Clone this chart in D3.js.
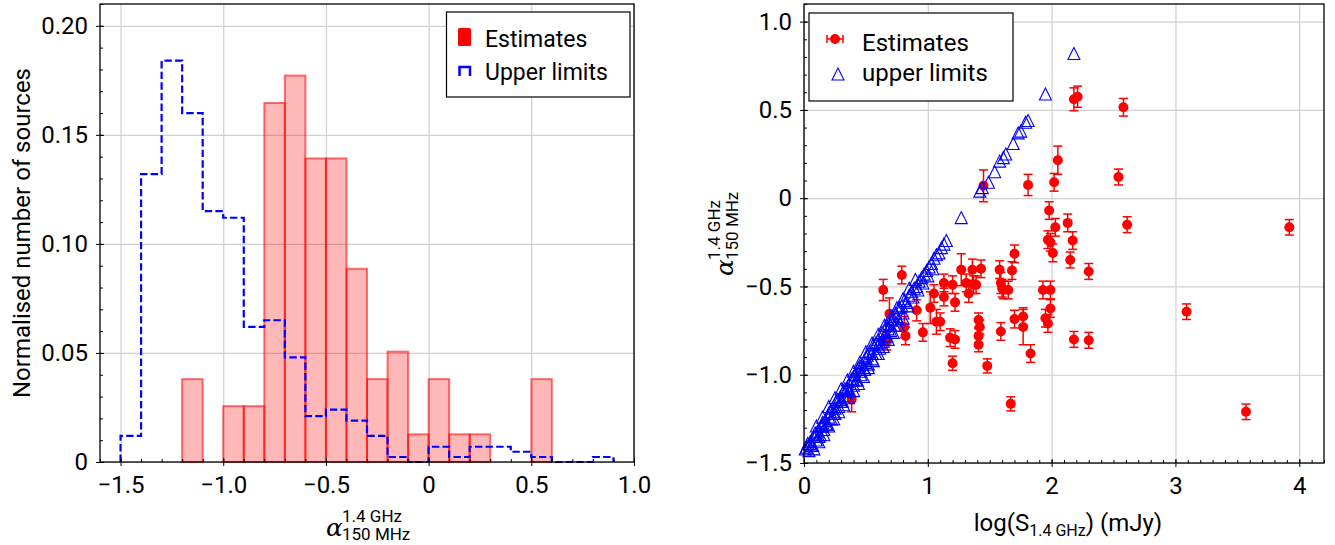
<!DOCTYPE html>
<html>
<head>
<meta charset="utf-8">
<script src="https://cdn.jsdelivr.net/npm/d3@7"></script>
<style>
  body { margin: 0; background: #fff; }
  svg { font-family: Roboto, "DejaVu Sans", sans-serif; }
</style>
</head>
<body>
<svg width="1335" height="545"></svg>
<script>
/////////////////////////////////
// Spectral index figure: histogram (left) and scatter (right).
//

// Left panel: histogram bins (left edges, width 0.1) and normalised heights.
const estBins = [-1.2, -1.1, -1.0, -0.9, -0.8, -0.7, -0.6, -0.5, -0.4, -0.3, -0.2, -0.1, 0.0, 0.1, 0.2, 0.3, 0.4, 0.5];
const estValues = [0.038, 0, 0.0256, 0.0256, 0.1646, 0.1772, 0.1392, 0.1392, 0.0886, 0.038, 0.0506, 0.0127, 0.038, 0.0127, 0.0127, 0, 0, 0.038];

const ulBins = [-1.5, -1.4, -1.3, -1.2, -1.1, -1.0, -0.9, -0.8, -0.7, -0.6, -0.5, -0.4, -0.3, -0.2, -0.1, 0.0, 0.1, 0.2, 0.3, 0.4, 0.5, 0.6, 0.7, 0.8];
const ulValues = [0.012, 0.132, 0.184, 0.160, 0.115, 0.112, 0.062, 0.065, 0.048, 0.021, 0.024, 0.019, 0.012, 0.0023, 0, 0.007, 0.0023, 0.007, 0.007, 0.0047, 0.0023, 0, 0, 0.0023];
const binWidth = 0.1;

const histXTicks = [-1.5, -1.0, -0.5, 0, 0.5, 1.0];
const histXLabels = ["\u22121.5", "\u22121.0", "\u22120.5", "0", "0.5", "1.0"];
const histYTicks = [0, 0.05, 0.10, 0.15, 0.20];
const histYLabels = ["0", "0.05", "0.10", "0.15", "0.20"];

// Right panel: estimates (log S, alpha, error) and upper limits.
const estX = [0.385, 0.64, 0.79, 0.69, 0.67, 0.81, 0.82, 0.91, 0.96, 1.02, 1.05, 1.07, 1.10, 1.13, 1.13, 1.20, 1.22, 1.18, 1.22, 1.20,
  1.27, 1.31, 1.33, 1.36, 1.37, 1.39, 1.43, 1.41, 1.42, 1.41, 1.41, 1.48, 1.45, 1.58, 1.59, 1.60, 1.61, 1.65, 1.59, 1.68,
  1.70, 1.70, 1.77, 1.77, 1.83, 1.67, 1.81, 1.93, 1.99, 1.99, 1.95, 1.97, 1.98, 1.97, 1.99, 2.01, 2.03, 2.02, 2.05, 2.18,
  2.21, 2.58, 2.54, 2.13, 2.61, 2.17, 2.15, 2.30, 2.18, 2.30, 3.09, 3.57, 3.92];
const estY = [-1.14, -0.52, -0.435, -0.655, -0.81, -0.73, -0.78, -0.635, -0.76, -0.62, -0.54, -0.70, -0.70, -0.48, -0.56, -0.49, -0.59, -0.79, -0.80, -0.935,
  -0.405, -0.48, -0.54, -0.405, -0.49, -0.49, -0.40, -0.69, -0.73, -0.78, -0.83, -0.95, 0.07, -0.405, -0.48, -0.51, -0.52, -0.52, -0.755, -0.41,
  -0.315, -0.685, -0.67, -0.73, -0.88, -1.165, 0.075, -0.52, -0.52, -0.625, -0.68, -0.71, -0.07, -0.235, -0.25, -0.31, -0.165, 0.09, 0.215, 0.56,
  0.575, 0.515, 0.12, -0.14, -0.15, -0.24, -0.35, -0.415, -0.80, -0.805, -0.643, -1.21, -0.165];
const estErr = [0.07, 0.06, 0.05, 0.09, 0.05, 0.06, 0.05, 0.06, 0.05, 0.09, 0.05, 0.07, 0.05, 0.05, 0.05, 0.05, 0.05, 0.05, 0.05, 0.04,
  0.09, 0.05, 0.05, 0.06, 0.05, 0.05, 0.05, 0.04, 0.04, 0.04, 0.04, 0.04, 0.09, 0.05, 0.06, 0.05, 0.05, 0.05, 0.05, 0.05,
  0.05, 0.05, 0.05, 0.10, 0.05, 0.04, 0.06, 0.05, 0.05, 0.05, 0.05, 0.05, 0.05, 0.05, 0.05, 0.05, 0.05, 0.05, 0.08, 0.065,
  0.06, 0.05, 0.045, 0.05, 0.045, 0.05, 0.045, 0.045, 0.045, 0.045, 0.044, 0.044, 0.044];

const ulX = [0.01, 0.02, 0.03, 0.05, 0.06, 0.08, 0.09, 0.11, 0.12, 0.14, 0.15, 0.17, 0.18, 0.20, 0.21, 0.23, 0.24, 0.26, 0.27, 0.29,
  0.30, 0.32, 0.33, 0.35, 0.36, 0.38, 0.39, 0.41, 0.42, 0.44, 0.45, 0.47, 0.48, 0.50, 0.51, 0.53, 0.55, 0.56, 0.58, 0.60,
  0.61, 0.63, 0.65, 0.67, 0.68, 0.70, 0.72, 0.74, 0.75, 0.77, 0.79, 0.81, 0.83, 0.85, 0.87, 0.89, 0.91, 0.93, 0.95, 0.97,
  0.99, 1.01, 1.03, 1.05, 1.07, 1.09, 1.11, 1.13, 1.15, 1.27, 1.42, 1.44, 1.49, 1.54, 1.58, 1.61, 1.63, 1.69, 1.73, 1.75,
  1.79, 1.81, 1.95, 2.18,
  0.04, 0.07, 0.10, 0.13, 0.16, 0.19, 0.22, 0.25, 0.28, 0.31, 0.34, 0.37, 0.40, 0.43, 0.46, 0.49, 0.52, 0.55, 0.58, 0.61,
  0.64, 0.67, 0.70, 0.73, 0.76, 0.80, 0.84, 0.88, 0.92, 0.96, 1.00, 1.04,
  0.05, 0.10, 0.15, 0.20, 0.25, 0.30, 0.35, 0.40, 0.45, 0.50, 0.55, 0.60, 0.65, 0.70,
  0.08, 0.12, 0.16, 0.20, 0.24, 0.28, 0.32, 0.36, 0.40, 0.44, 0.48, 0.52, 0.56, 0.60, 0.64, 0.68, 0.72, 0.76, 0.80,
  0.10, 0.15, 0.20, 0.25, 0.30, 0.35, 0.40, 0.45, 0.50, 0.55, 0.60, 0.65, 0.70, 0.75, 0.80, 0.85, 0.90];
const ulY = [-1.42, -1.41, -1.39, -1.38, -1.40, -1.35, -1.33, -1.32, -1.35, -1.29, -1.27, -1.26, -1.28, -1.22, -1.21, -1.19, -1.22, -1.15, -1.14, -1.13,
  -1.15, -1.09, -1.08, -1.07, -1.09, -1.03, -1.02, -1.00, -1.03, -0.96, -0.95, -0.94, -0.96, -0.90, -0.89, -0.87, -0.88, -0.83, -0.82, -0.80,
  -0.82, -0.76, -0.75, -0.72, -0.74, -0.69, -0.68, -0.65, -0.67, -0.62, -0.61, -0.58, -0.59, -0.55, -0.53, -0.51, -0.50, -0.47, -0.45, -0.43,
  -0.41, -0.39, -0.37, -0.34, -0.32, -0.31, -0.28, -0.26, -0.24, -0.11, 0.04, 0.06, 0.09, 0.15, 0.21, 0.23, 0.25, 0.31, 0.37, 0.38,
  0.43, 0.44, 0.59, 0.82,
  -1.43, -1.40, -1.37, -1.34, -1.31, -1.28, -1.25, -1.22, -1.18, -1.15, -1.12, -1.09, -1.06, -1.03, -1.00, -0.97, -0.94, -0.91, -0.88, -0.85,
  -0.81, -0.78, -0.75, -0.72, -0.69, -0.65, -0.61, -0.56, -0.52, -0.48, -0.44, -0.40,
  -1.39, -1.34, -1.29, -1.24, -1.19, -1.14, -1.08, -1.03, -0.98, -0.93, -0.88, -0.83, -0.78, -0.72,
  -1.42, -1.38, -1.34, -1.29, -1.25, -1.21, -1.17, -1.13, -1.09, -1.05, -1.01, -0.96, -0.92, -0.88, -0.84, -0.80, -0.76, -0.72, -0.68,
  -1.29, -1.24, -1.18, -1.13, -1.08, -1.03, -0.98, -0.93, -0.87, -0.82, -0.77, -0.72, -0.67, -0.62, -0.57, -0.51, -0.46];

const scatXTicks = [0, 1, 2, 3, 4];
const scatXLabels = ["0", "1", "2", "3", "4"];
const scatYTicks = [-1.5, -1.0, -0.5, 0, 0.5, 1.0];
const scatYLabels = ["\u22121.5", "\u22121.0", "\u22120.5", "0", "0.5", "1.0"];

const svg = d3.select("svg");
const gridColor = "#d0d0d0";

// Shared frame: grid, crossing major ticks, inward minor ticks, labels, box.
function drawFrame(g, x, y, w, h, xt, xl, xMinor, yt, yl, yMinor) {

    const grid = g.append("g").attr("class", "grid");
    grid.append("g").attr("transform", `translate(0,${h})`)
        .call(d3.axisBottom(x).tickValues(xt).tickSize(-h).tickFormat(""));
    grid.append("g")
        .call(d3.axisLeft(y).tickValues(yt).tickSize(-w).tickFormat(""));
    grid.selectAll(".domain").remove();
    grid.selectAll("line").attr("stroke", gridColor).attr("stroke-width", 1.2);
    return () => {

        const ax = g.append("g").attr("class", "axes");
        ax.append("g").attr("transform", `translate(0,${h})`)
            .call(d3.axisBottom(x).tickValues(xt).tickSize(4).tickPadding(10)
                .tickFormat((d, i) => xl[i]));
        ax.append("g")
            .call(d3.axisLeft(y).tickValues(yt).tickSize(4).tickPadding(8)
                .tickFormat((d, i) => yl[i]));
        ax.append("g").attr("transform", `translate(0,${h})`)
            .call(d3.axisBottom(x).tickValues(xt).tickSize(-4).tickFormat(""));
        ax.append("g")
            .call(d3.axisLeft(y).tickValues(yt).tickSize(-4).tickFormat(""));
        ax.append("g").attr("transform", `translate(0,${h})`)
            .call(d3.axisBottom(x).tickValues(xMinor).tickSize(-3).tickFormat(""));
        ax.append("g")
            .call(d3.axisLeft(y).tickValues(yMinor).tickSize(-3).tickFormat(""));
        ax.selectAll(".domain").remove();
        ax.selectAll("line").attr("stroke", "#000").attr("stroke-width", 1);
        ax.selectAll("text").attr("font-family", "Roboto, sans-serif")
            .attr("font-size", 24).attr("fill", "#000");
        ax.append("rect").attr("width", w).attr("height", h)
            .attr("fill", "none").attr("stroke", "#000").attr("stroke-width", 1.3);
    };
}

function minorTicks(lo, hi, step) {

    const n = Math.round((hi - lo) / step);
    return d3.range(n + 1).map((i) => +(lo + i * step).toFixed(3));
}

// ---------- Left: histogram ----------
{
    const left = 100, top = 4, w = 534, h = 458;
    const g = svg.append("g").attr("transform", `translate(${left},${top})`);
    const x = d3.scaleLinear().domain([-1.6, 1.0]).range([0, w]);
    const y = d3.scaleLinear().domain([0, 0.21]).range([h, 0]);

    const finish = drawFrame(g, x, y, w, h, histXTicks, histXLabels, minorTicks(-1.6, 1.0, 0.1),
        histYTicks, histYLabels, minorTicks(0, 0.21, 0.01));

    g.append("g").selectAll("rect")
        .data(estBins.map((b, i) => ({ b, v: estValues[i] })).filter((d) => d.v > 0))
        .enter()
        .append("rect")
        .attr("x", (d) => x(d.b))
        .attr("width", (d) => x(d.b + binWidth) - x(d.b))
        .attr("y", (d) => y(d.v))
        .attr("height", (d) => y(0) - y(d.v))
        .attr("fill", "#ff0000").attr("fill-opacity", 0.28)
        .attr("stroke", "#ff0000").attr("stroke-opacity", 0.55).attr("stroke-width", 2);

    const stepPts = [[ulBins[0], 0]].concat(ulBins.map((b, i) => [b, ulValues[i]]));
    const lastEdge = ulBins[ulBins.length - 1] + binWidth;
    stepPts.push([lastEdge, ulValues[ulValues.length - 1]], [lastEdge, 0]);
    const step = d3.line().x((d) => x(d[0])).y((d) => y(d[1])).curve(d3.curveStepAfter);
    g.append("path").datum(stepPts).attr("d", step)
        .attr("fill", "none").attr("stroke", "#0000ff").attr("stroke-width", 2.2)
        .attr("stroke-dasharray", "7.4,3.2");

    finish();

    // Legend
    const lg = svg.append("g");
    lg.append("rect").attr("x", 446.5).attr("y", 12).attr("width", 183.5).attr("height", 85)
        .attr("fill", "#fff").attr("stroke", "#000").attr("stroke-width", 1.2);
    lg.append("rect").attr("x", 458).attr("y", 28).attr("width", 13).attr("height", 18)
        .attr("fill", "#ff0000").attr("rx", 1.5);
    lg.append("path").attr("d", "M459.5,76V67H470V76")
        .attr("fill", "none").attr("stroke", "#0000ff").attr("stroke-width", 2.5);
    lg.append("text").attr("x", 485).attr("y", 47).attr("font-size", 23).text("Estimates");
    lg.append("text").attr("x", 485).attr("y", 80).attr("font-size", 23).text("Upper limits");

    // Axis labels
    svg.append("text").attr("transform", "translate(30,233) rotate(-90)")
        .attr("text-anchor", "middle").attr("font-size", 24).text("Normalised number of sources");
    svg.append("text").attr("x", 326).attr("y", 536)
        .attr("font-family", "DejaVu Serif, serif").attr("font-style", "italic").attr("font-size", 25).text("\u03b1");
    svg.append("text").attr("x", 342).attr("y", 522).attr("font-size", 17).text("1.4 GHz");
    svg.append("text").attr("x", 342).attr("y", 540).attr("font-size", 17).text("150 MHz");
}

// ---------- Right: scatter ----------
{
    const left = 804, top = 4, w = 520, h = 459;
    const g = svg.append("g").attr("transform", `translate(${left},${top})`);
    const x = d3.scaleLinear().domain([0, 4.2]).range([0, w]);
    const y = d3.scaleLinear().domain([-1.5, 1.1]).range([h, 0]);

    const finish = drawFrame(g, x, y, w, h, scatXTicks, scatXLabels, minorTicks(0, 4.2, 0.1),
        scatYTicks, scatYLabels, minorTicks(-1.5, 1.1, 0.1));

    const red = "#ff0000";
    const est = estX.map((v, i) => ({ x: v, y: estY[i], e: estErr[i] }));
    const eg = g.append("g");
    const pts = eg.selectAll("g").data(est).enter().append("g")
        .attr("transform", (d) => `translate(${x(d.x)},0)`);
    pts.append("line").attr("y1", (d) => y(d.y - d.e)).attr("y2", (d) => y(d.y + d.e))
        .attr("stroke", red).attr("stroke-width", 1.5);
    pts.append("line").attr("x1", -4.5).attr("x2", 4.5)
        .attr("y1", (d) => y(d.y - d.e)).attr("y2", (d) => y(d.y - d.e))
        .attr("stroke", red).attr("stroke-width", 1.5);
    pts.append("line").attr("x1", -4.5).attr("x2", 4.5)
        .attr("y1", (d) => y(d.y + d.e)).attr("y2", (d) => y(d.y + d.e))
        .attr("stroke", red).attr("stroke-width", 1.5);
    pts.append("circle").attr("cy", (d) => y(d.y)).attr("r", 5).attr("fill", red);

    const tri = "M0,-6L6,6L-6,6Z";
    g.append("g").selectAll("path")
        .data(ulX.map((v, i) => [v, ulY[i]]))
        .enter()
        .append("path")
        .attr("d", tri)
        .attr("transform", (d) => `translate(${x(d[0])},${y(d[1])})`)
        .attr("fill", "none").attr("stroke", "#0000ff").attr("stroke-width", 1.1);

    finish();

    // Legend
    const lg = svg.append("g");
    lg.append("rect").attr("x", 809).attr("y", 13).attr("width", 204).attr("height", 88)
        .attr("fill", "#fff").attr("stroke", "#000").attr("stroke-width", 1.2);
    lg.append("path").attr("d", "M827,39H843M827,35V43M843,35V43M835,34V44")
        .attr("stroke", red).attr("stroke-width", 1.5);
    lg.append("circle").attr("cx", 835).attr("cy", 39).attr("r", 5).attr("fill", red);
    lg.append("path").attr("d", tri).attr("transform", "translate(838,74)")
        .attr("fill", "none").attr("stroke", "#0000ff").attr("stroke-width", 1.1);
    lg.append("text").attr("x", 862).attr("y", 51).attr("font-size", 24).text("Estimates");
    lg.append("text").attr("x", 862).attr("y", 81).attr("font-size", 24).text("upper limits");

    // Axis labels
    const xl = svg.append("text").attr("x", 1068).attr("y", 531)
        .attr("text-anchor", "middle").attr("font-size", 24);
    xl.append("tspan").text("log(S");
    xl.append("tspan").attr("font-size", 16).attr("dy", 5).text("1.4 GHz");
    xl.append("tspan").attr("dy", -5).text(") (mJy)");

    const yl = svg.append("g").attr("transform", "translate(733,276) rotate(-90)");
    yl.append("text").attr("font-family", "DejaVu Serif, serif").attr("font-style", "italic")
        .attr("font-size", 25).text("\u03b1");
    yl.append("text").attr("x", 16).attr("y", -13).attr("font-size", 17).text("1.4 GHz");
    yl.append("text").attr("x", 16).attr("y", 5).attr("font-size", 17).text("150 MHz");
}
</script>
</body>
</html>
